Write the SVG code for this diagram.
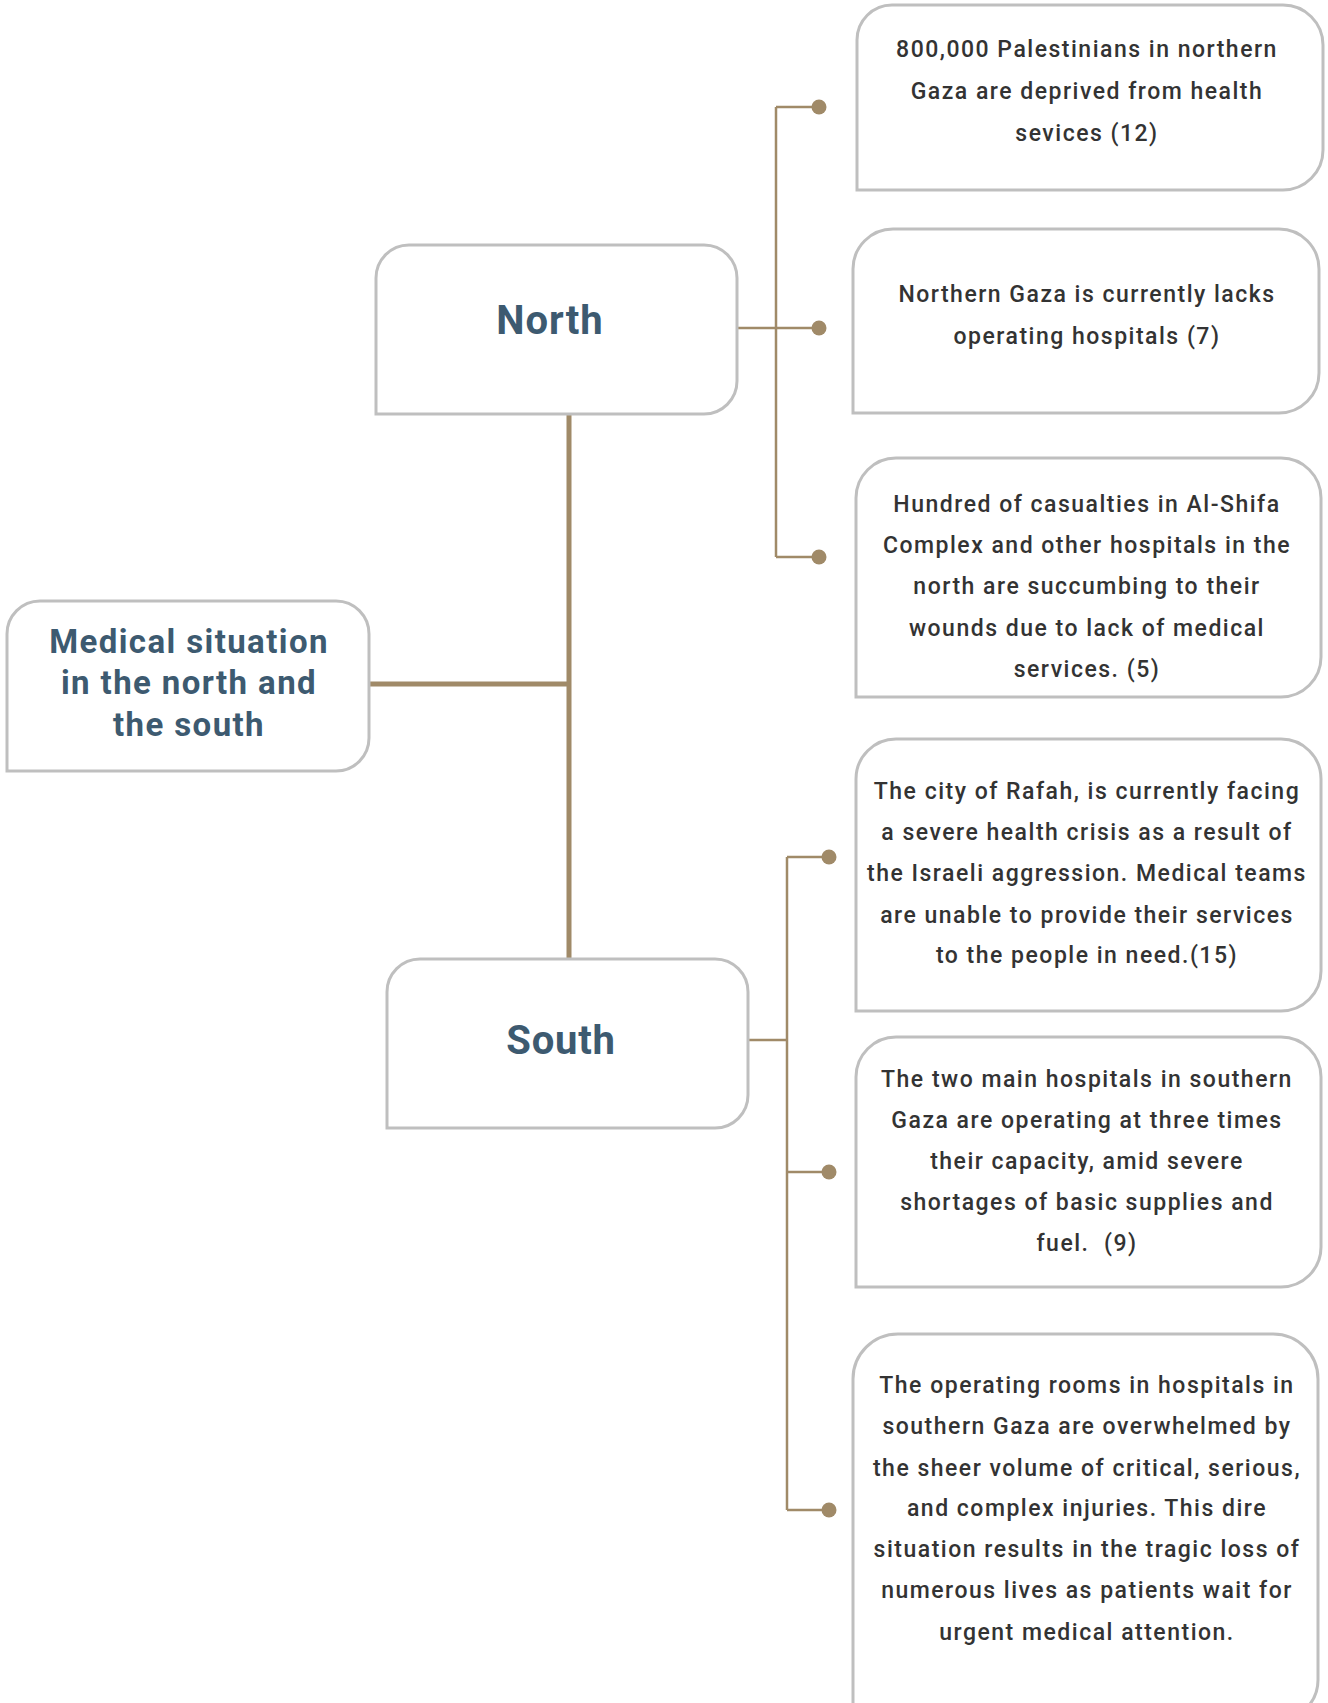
<svg xmlns="http://www.w3.org/2000/svg" width="1328" height="1703" viewBox="0 0 1328 1703">
<style>
.box{fill:#fff;stroke:#bfbfbf;stroke-width:3}
.title{font-family:Roboto,"Liberation Sans",sans-serif;font-weight:700;fill:#3d5a70;text-anchor:middle}
.body{font-family:Roboto,"Liberation Sans",sans-serif;font-weight:500;font-size:23px;fill:#333;text-anchor:middle;letter-spacing:1.5px}
.thick{stroke:#a08a68;stroke-width:5;fill:none}
.thin{stroke:#a08a68;stroke-width:2.5;fill:none}
.dot{fill:#a08a68}
</style>
<rect width="1328" height="1703" fill="#fff"/>
<g id="connectors">
<path class="thick" d="M365,684 H569 M569,414 V959"/>
<path class="thin" d="M737,328 H818 M776,107 V557 M776,107 H818 M776,557 H818"/>
<path class="thin" d="M748,1040 H787 M787,857 V1510 M787,857 H829 M787,1172 H829 M787,1510 H829"/>
<circle class="dot" cx="819" cy="107" r="7.5"/>
<circle class="dot" cx="819" cy="328" r="7.5"/>
<circle class="dot" cx="819" cy="557" r="7.5"/>
<circle class="dot" cx="829" cy="857" r="7.5"/>
<circle class="dot" cx="829" cy="1172" r="7.5"/>
<circle class="dot" cx="829" cy="1510" r="7.5"/>
</g>
<g id="root">
<path class="box" d="M7,771 V634 A33,33 0 0 1 40,601 H336 A33,33 0 0 1 369,634 V738 A33,33 0 0 1 336,771 Z"/>
<text class="title" font-size="33" letter-spacing="1.4" x="189" y="653">Medical situation</text>
<text class="title" font-size="33" letter-spacing="1.4" x="189" y="694">in the north and</text>
<text class="title" font-size="33" letter-spacing="1.4" x="189" y="736">the south</text>
</g>
<g id="north">
<path class="box" d="M376,414 V278 A33,33 0 0 1 409,245 H704 A33,33 0 0 1 737,278 V381 A33,33 0 0 1 704,414 Z"/>
<text class="title" font-size="40" letter-spacing="1" x="550" y="334">North</text>
</g>
<g id="south">
<path class="box" d="M387,1128 V992 A33,33 0 0 1 420,959 H715 A33,33 0 0 1 748,992 V1095 A33,33 0 0 1 715,1128 Z"/>
<text class="title" font-size="40" letter-spacing="0.8" x="561" y="1054">South</text>
</g>
<g id="n1">
<path class="box" d="M857,190 V40 A35,35 0 0 1 892,5 H1283 A40,40 0 0 1 1323,45 V150 A40,40 0 0 1 1283,190 Z"/>
<text class="body" x="1087" y="57">800,000 Palestinians in northern</text>
<text class="body" x="1087" y="99">Gaza are deprived from health</text>
<text class="body" x="1087" y="141">sevices (12)</text>
</g>
<g id="n2">
<path class="box" d="M853,413 V269 A40,40 0 0 1 893,229 H1279 A40,40 0 0 1 1319,269 V373 A40,40 0 0 1 1279,413 Z"/>
<text class="body" x="1087" y="302">Northern Gaza is currently lacks</text>
<text class="body" x="1087" y="344">operating hospitals (7)</text>
</g>
<g id="n3">
<path class="box" d="M856,697 V498 A40,40 0 0 1 896,458 H1281 A40,40 0 0 1 1321,498 V657 A40,40 0 0 1 1281,697 Z"/>
<text class="body" x="1087" y="512">Hundred of casualties in Al-Shifa</text>
<text class="body" x="1087" y="553">Complex and other hospitals in the</text>
<text class="body" x="1087" y="594">north are succumbing to their</text>
<text class="body" x="1087" y="636">wounds due to lack of medical</text>
<text class="body" x="1087" y="677">services. (5)</text>
</g>
<g id="s1">
<path class="box" d="M856,1011 V779 A40,40 0 0 1 896,739 H1281 A40,40 0 0 1 1321,779 V971 A40,40 0 0 1 1281,1011 Z"/>
<text class="body" x="1087" y="799">The city of Rafah, is currently facing</text>
<text class="body" x="1087" y="840">a severe health crisis as a result of</text>
<text class="body" x="1087" y="881">the Israeli aggression. Medical teams</text>
<text class="body" x="1087" y="923">are unable to provide their services</text>
<text class="body" x="1087" y="963">to the people in need.(15)</text>
</g>
<g id="s2">
<path class="box" d="M856,1287 V1077 A40,40 0 0 1 896,1037 H1281 A40,40 0 0 1 1321,1077 V1247 A40,40 0 0 1 1281,1287 Z"/>
<text class="body" x="1087" y="1087">The two main hospitals in southern</text>
<text class="body" x="1087" y="1128">Gaza are operating at three times</text>
<text class="body" x="1087" y="1169">their capacity, amid severe</text>
<text class="body" x="1087" y="1210">shortages of basic supplies and</text>
<text class="body" x="1087" y="1251">fuel.&#160; (9)</text>
</g>
<g id="s3">
<path class="box" d="M853,1720 V1379 A45,45 0 0 1 898,1334 H1273 A45,45 0 0 1 1318,1379 V1680 A40,40 0 0 1 1278,1720 Z"/>
<text class="body" x="1087" y="1393">The operating rooms in hospitals in</text>
<text class="body" x="1087" y="1434">southern Gaza are overwhelmed by</text>
<text class="body" x="1087" y="1476">the sheer volume of critical, serious,</text>
<text class="body" x="1087" y="1516">and complex injuries. This dire</text>
<text class="body" x="1087" y="1557">situation results in the tragic loss of</text>
<text class="body" x="1087" y="1598">numerous lives as patients wait for</text>
<text class="body" x="1087" y="1640">urgent medical attention.</text>
</g>
</svg>
